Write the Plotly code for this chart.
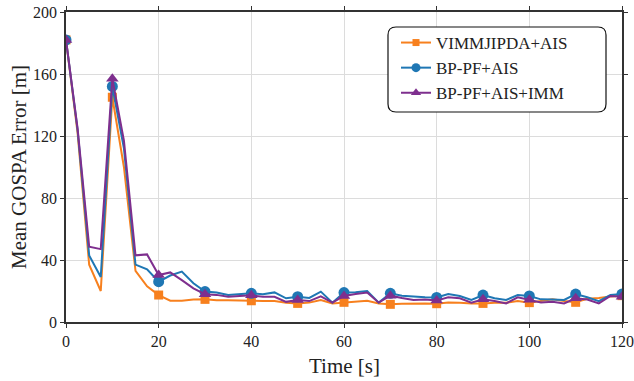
import plotly.graph_objects as go

time_s = [i * 2.5 for i in range(49)]

vimmjipda_ais = [182, 122, 37, 20, 145, 100, 33, 23, 17.4, 13.7, 13.7, 14.5,
                 14.6, 14, 14, 14, 13.7, 13.5, 13.5, 12.5, 12, 12.5, 14.2, 12, 12.7,
                 13, 13.7, 12, 11.4, 11.8, 12, 12, 11.8, 12.6, 12.5, 12, 12,
                 12.5, 12.5, 13.5, 12.5, 13.5, 14.6, 13.5, 12.7, 15, 15.5, 16.5, 17]

bp_pf_ais = [182, 124, 43, 29, 152, 112, 37, 34, 26, 30, 32.5, 25,
             19.6, 19, 17.4, 18, 18.5, 17.9, 19.1, 15.3, 16.3, 15.5, 19.6, 12.5, 19,
             19.2, 20, 12.5, 18.5, 17, 16.3, 16, 15.8, 18, 16.8, 14.2, 17.4,
             15.3, 14.2, 17.4, 16.8, 14.6, 14.5, 14.2, 18, 16, 13.5, 17.4, 18]

bp_pf_ais_imm = [182, 125, 48.6, 47, 157, 117, 43, 43.6, 30.3, 32, 27, 21.7,
                 17.9, 17.5, 16.3, 16.8, 17.2, 16.3, 16.3, 13, 14.2, 13.5, 16.5, 12.5, 16.8,
                 18, 19, 12.5, 17, 15.5, 14.2, 14.5, 13.8, 15.9, 15.3, 12.5, 14.6,
                 13.5, 12, 15.9, 14.4, 12.6, 13, 12, 15.3, 14.5, 12, 16.8, 16.3]

series_names = ["VIMMJIPDA+AIS", "BP-PF+AIS", "BP-PF+AIS+IMM"]
x_ticks = [0, 20, 40, 60, 80, 100, 120]
y_ticks = [0, 40, 80, 120, 160, 200]
x_title = "Time [s]"
y_title = "Mean GOSPA Error [m]"

colors = ["#f7801e", "#1f77b4", "#7e2f8e"]
symbols = ["square", "circle", "triangle-up"]
msizes = [9, 11, 11]

FONT = "Liberation Serif"
fig = go.Figure()
for name, ys, c, s, ms in zip(series_names, [vimmjipda_ais, bp_pf_ais, bp_pf_ais_imm],
                              colors, symbols, msizes):
    fig.add_trace(go.Scatter(x=time_s, y=ys, mode="lines", line=dict(color=c, width=2),
                             showlegend=False, hoverinfo="skip"))
    mx = [t for i, t in enumerate(time_s) if i % 4 == 0]
    my = [v for i, v in enumerate(ys) if i % 4 == 0]
    fig.add_trace(go.Scatter(x=mx, y=my, mode="markers",
                             marker=dict(color=c, symbol=s, size=ms),
                             showlegend=False, hoverinfo="skip"))
    fig.add_trace(go.Scatter(x=[None], y=[None], mode="lines+markers", name=name,
                             line=dict(color=c, width=2),
                             marker=dict(color=c, symbol=s, size=ms - 2)))

W, H = 634, 381
L, R, T, B = 66, 12, 12, 59
pw, ph = W - L - R, H - T - B

def px(x):
    return (x - L) / pw

def py(y):
    return (H - B - y) / ph

x0, x1, y0, y1 = px(388), px(606), py(112), py(27)
rx, ry = 8 / pw, 8 / ph
path = (f"M {x0+rx},{y0} L {x1-rx},{y0} Q {x1},{y0} {x1},{y0+ry} "
        f"L {x1},{y1-ry} Q {x1},{y1} {x1-rx},{y1} L {x0+rx},{y1} "
        f"Q {x0},{y1} {x0},{y1-ry} L {x0},{y0+ry} Q {x0},{y0} {x0+rx},{y0} Z")

axis_common = dict(showgrid=True, gridcolor="#dcdcdc", gridwidth=1,
                   showline=True, linecolor="#333", linewidth=1.5, mirror="ticks",
                   ticks="outside", ticklen=4, tickcolor="#333",
                   tickfont=dict(family=FONT, size=16, color="#222"),
                   zeroline=False, automargin=False)

fig.update_layout(
    width=W, height=H,
    margin=dict(l=L, r=R, t=T, b=B, autoexpand=False),
    paper_bgcolor="white", plot_bgcolor="white",
    font=dict(family=FONT, size=15, color="#222"),
    shapes=[dict(type="path", path=path, xref="paper", yref="paper",
                 line=dict(color="#111", width=1.2), fillcolor="white", layer="above")],
    legend=dict(x=px(396), y=py(25), xanchor="left", yanchor="top",
                bgcolor="rgba(0,0,0,0)", borderwidth=0,
                font=dict(family=FONT, size=17, color="#222"),
                tracegroupgap=4, itemwidth=30),
    xaxis=dict(range=[0, 120], tickvals=x_ticks, ticktext=[str(v) for v in x_ticks],
               **axis_common),
    yaxis=dict(range=[0, 200], tickvals=y_ticks, ticktext=[str(v) for v in y_ticks],
               **axis_common),
    annotations=[
        dict(text=x_title, xref="paper", yref="paper", x=0.5, y=py(366),
             xanchor="center", yanchor="middle", showarrow=False,
             font=dict(family=FONT, size=21, color="#222")),
        dict(text=y_title, xref="paper", yref="paper", x=px(19), y=0.5,
             xanchor="center", yanchor="middle", showarrow=False, textangle=-90,
             font=dict(family=FONT, size=21, color="#222")),
    ],
)

fig.write_html("out.html", config={"displayModeBar": False},
               post_script="document.body.style.margin='0';document.body.style.overflow='hidden';")
